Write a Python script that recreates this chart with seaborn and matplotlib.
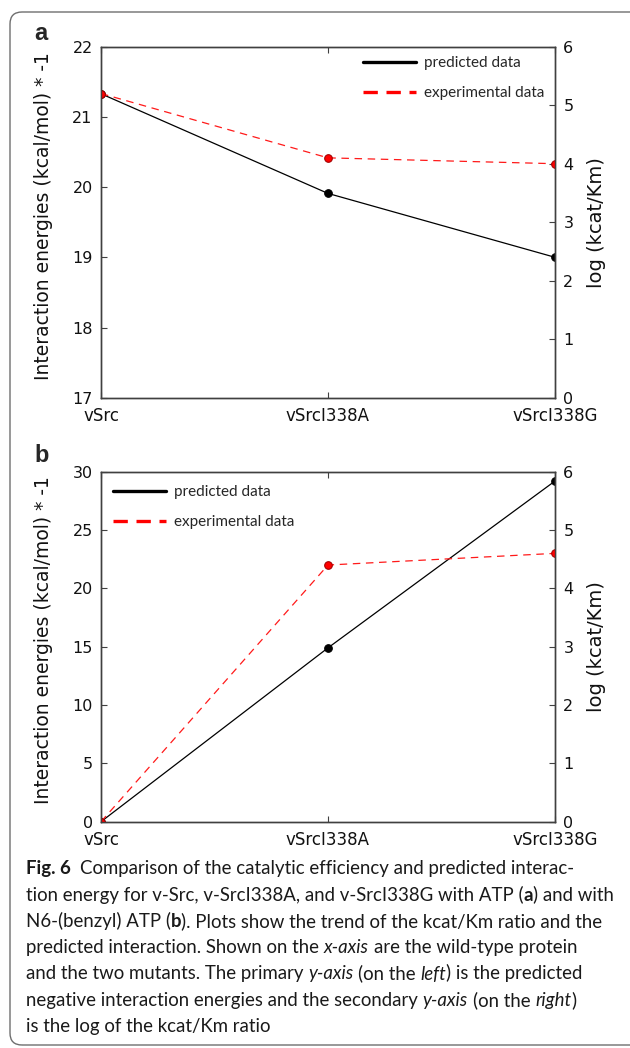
import re
import numpy as np
import pandas as pd
import matplotlib
matplotlib.use("Agg")
import matplotlib.pyplot as plt
import matplotlib.transforms as mtransforms
from matplotlib.lines import Line2D
from matplotlib.patches import FancyBboxPatch
import seaborn as sns

# ---------------- data ----------------
mutants = ["vSrc", "vSrcI338A", "vSrcI338G"]
pred_a = [21.33, 19.91, 19.00]      # interaction energies * -1 (left axis)
exp_a = [5.20, 4.10, 4.00]          # log(kcat/Km) (right axis)
pred_b = [0.0, 14.9, 29.2]
exp_b = [0.0, 4.40, 4.60]
left_ticks_a = [17, 18, 19, 20, 21, 22]
left_ticks_b = [0, 5, 10, 15, 20, 25, 30]
right_ticks = [0, 1, 2, 3, 4, 5, 6]
series_labels = ["predicted data", "experimental data"]
ylabel_left = "Interaction energies (kcal/mol) * -1"
ylabel_right = "log (kcat/Km)"
panel_labels = ["a", "b"]
caption_lines = [
    "**Fig. 6**  Comparison of the catalytic efficiency and predicted interac-",
    "tion energy for v-Src, v-SrcI338A, and v-SrcI338G with ATP (**a**) and with",
    "N6-(benzyl) ATP (**b**). Plots show the trend of the kcat/Km ratio and the",
    "predicted interaction. Shown on the *x-axis* are the wild-type protein",
    "and the two mutants. The primary *y-axis* (on the *left*) is the predicted",
    "negative interaction energies and the secondary *y-axis* (on the *right*)",
    "is the log of the kcat/Km ratio",
]

# ---------------- style ----------------
sns.set_style("ticks")
plt.rcParams["font.family"] = ["DejaVu Sans"]
W, H = 630, 1048
fig = plt.figure(figsize=(W / 100, H / 100), dpi=100)

AX_FONT = "DejaVu Sans"
CAP_FONT = "Lato"
SPINE = "#404040"
RED = "#ff1a1a"


def rect(l, t, r, b):
    return [l / W, 1 - b / H, (r - l) / W, (b - t) / H]


def draw_panel(ax, pred, exp, yticks_left, leg_anchor):
    df = pd.DataFrame({"mutant": mutants, "pred": pred, "exp": exp})
    sns.lineplot(data=df, x="mutant", y="pred", ax=ax, sort=False,
                 color="black", lw=0.9, marker="o", markersize=5.5,
                 markerfacecolor="black", markeredgecolor="black")
    ax2 = ax.twinx()
    sns.lineplot(data=df, x="mutant", y="exp", ax=ax2, sort=False,
                 color=RED, lw=0.9, linestyle=(0, (6, 4.5)), marker="o",
                 markersize=5.5, markerfacecolor="#ff0000",
                 markeredgecolor="#a00000")
    ax.set_xlim(0, len(mutants) - 1)
    ax.set_ylim(yticks_left[0], yticks_left[-1])
    ax.set_yticks(yticks_left)
    ax2.set_ylim(right_ticks[0], right_ticks[-1])
    ax2.set_yticks(right_ticks)
    ax.set_xlabel("")
    ax.set_ylabel(ylabel_left, fontsize=13.5, family=AX_FONT, color="#111111")
    ax.yaxis.set_label_coords(-0.106, 0.518)
    ax2.set_ylabel(ylabel_right, fontsize=14, family=AX_FONT, color="#111111")
    ax2.yaxis.set_label_coords(1.071, 0.5)
    for a in (ax, ax2):
        for s in a.spines.values():
            s.set_color(SPINE)
            s.set_linewidth(1.0)
    ax.tick_params(axis="both", direction="in", length=4, width=0.8,
                   color=SPINE, labelsize=11.5, labelcolor="#111111")
    ax.tick_params(axis="x", top=True, pad=7, labelsize=12)
    ax.tick_params(axis="y", pad=6, right=False)
    ax2.tick_params(axis="y", direction="in", length=4, width=0.8,
                    color=SPINE, labelsize=11.5, labelcolor="#111111", pad=6)
    handles = [Line2D([], [], color="black", lw=2.4),
               Line2D([], [], color="#ff0000", lw=2.4, linestyle=(0, (4.3, 2.6)))]
    ax2.legend(handles, series_labels, loc="upper left",
               bbox_to_anchor=leg_anchor, frameon=False, borderaxespad=0,
               borderpad=0, handlelength=3.47, handletextpad=0.52,
               labelspacing=1.03, prop={"family": CAP_FONT, "size": 11})
    return ax2


ax_a = fig.add_axes(rect(101, 46.7, 555, 397.7))
ax_b = fig.add_axes(rect(101, 471.7, 555, 821.7))
draw_panel(ax_a, pred_a, exp_a, left_ticks_a, (0.577, 0.973))
draw_panel(ax_b, pred_b, exp_b, left_ticks_b, (0.0264, 0.961))

for lab, (px, py) in zip(panel_labels, [(41, 33), (42, 455)]):
    fig.text(px / W, 1 - py / H, lab, ha="center", va="center",
             fontsize=17, fontweight="bold", family="Liberation Sans")

# ---------------- caption ----------------
renderer = fig.canvas.get_renderer()
CAP_FS = 13.4


def text_w(s, weight, style, fs):
    t = fig.text(0, 0, s, fontsize=fs, family=CAP_FONT,
                 fontweight=weight, fontstyle=style)
    w = t.get_window_extent(renderer=renderer).width
    t.remove()
    return w


def advance(s, weight="normal", style="normal", fs=CAP_FS):
    return text_w("x" + s + "x", weight, style, fs) - text_w("xx", weight, style, fs)


def runs(line):
    out = []
    for m in re.finditer(r"\*\*(.+?)\*\*|\*(.+?)\*|([^*]+)", line):
        if m.group(1):
            out.append((m.group(1), "bold", "normal"))
        elif m.group(2):
            out.append((m.group(2), "normal", "italic"))
        else:
            out.append((m.group(3), "normal", "normal"))
    return out


space_w = advance(" ")
x0, base0, lstep = 26, 874.3, 26.3
for i, line in enumerate(caption_lines):
    y = base0 + i * lstep
    x = x0
    for s, wgt, sty in runs(line):
        lead = len(s) - len(s.lstrip(" "))
        fig.text((x + lead * space_w) / W, 1 - y / H, s.strip(" "),
                 fontsize=CAP_FS, family=CAP_FONT, fontweight=wgt,
                 fontstyle=sty, ha="left", va="baseline", color="#1a1a1a")
        x += advance(s, wgt, sty)

# ---------------- border ----------------
border = FancyBboxPatch((10, H - 1045), 640, 1045 - 12,
                        boxstyle="round,pad=0,rounding_size=12",
                        transform=mtransforms.IdentityTransform(),
                        fill=False, ec="#6e6e6e", lw=1.0)
fig.add_artist(border)

fig.savefig("out.png", dpi=100)
